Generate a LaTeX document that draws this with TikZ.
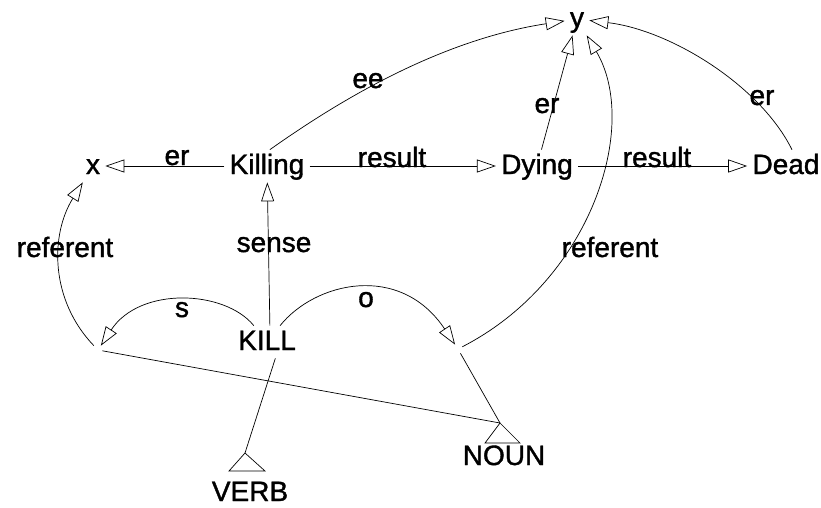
\documentclass[tikz,border=0pt]{standalone}
\usepackage{fontspec}
\setmainfont{Liberation Sans}
\newfontfamily\netfont{Liberation Sans}[FakeBold=1.3]
\usetikzlibrary{arrows.meta}

\tikzset{
  concept/.style={inner xsep=5pt, inner ysep=4pt, text height=20pt, text depth=4pt},
  rel/.style={inner sep=0pt, text height=20pt, text depth=4pt},
  slot/.style={inner sep=4pt},
  isa/.style={-{Triangle[open,length=19pt,width=13pt]}}
}

\begin{document}
\begin{tikzpicture}[x=1pt,y=-1pt,line width=0.7pt,font=\netfont\fontsize{28}{32}\selectfont]
\useasboundingbox (0,0) rectangle (821,508);
% concepts
\node[concept] (y) at (577,19) {y};
\node[concept] (x) at (93,166) {x};
\node[concept] (killing) at (267,166) {Killing};
\node[concept] (dying) at (537,166) {Dying};
\node[concept] (dead) at (786,166) {Dead};
\node[concept] (kill) at (267,342) {KILL};
\node[concept] (verb) at (250,493) {VERB};
\node[concept] (noun) at (504,457) {NOUN};
\node[slot] (subj) at (98,350) {};
\node[slot] (obj) at (458,349) {};
\coordinate (verbtop) at (245,453);
\coordinate (nountop) at (500,423);
% class triangles
\draw (verbtop) -- ++(-16,18) -- ++(36,0) -- cycle;
\draw (nountop) -- ++(-15,20) -- ++(35,0) -- cycle;
% Killing frame
\draw[isa] (killing) -- (x);
\draw[isa] (killing) -- (dying);
\draw[isa] (dying) -- (dead);
\draw[isa] (killing.80) .. controls (340,100) and (440,40) .. (y);
\draw[isa] (dying) -- (y);
\draw[isa] (dead.70) .. controls (760,85) and (670,30) .. (y);
% KILL and its slots
\draw[isa] (kill.80) -- (killing);
\draw[isa] (kill) .. controls (225,290) and (140,286) .. (subj);
\draw[isa] (kill) .. controls (315,282) and (400,262) .. (obj);
\draw[isa] (subj) .. controls (50,300) and (50,235) .. (x);
\draw[isa] (obj) .. controls (592,280) and (640,125) .. (y);
\draw (kill.-63) -- (verbtop);
\draw (subj) -- (nountop);
\draw (obj) -- (nountop);
% relation labels
\node[rel] (ee) at (368,80) {ee};
\node[rel] (er1) at (177,157) {er};
\node[rel] (result1) at (392,159) {result};
\node[rel] (er2) at (547,105) {er};
\node[rel] (result2) at (657,159) {result};
\node[rel] (er3) at (762,97) {er};
\node[rel] (ref1) at (65,249) {referent};
\node[rel] (sense) at (274,244) {sense};
\node[rel] (ref2) at (610,249) {referent};
\node[rel] (s) at (182,309) {s};
\node[rel] (o) at (366,299) {o};
\end{tikzpicture}
\end{document}
